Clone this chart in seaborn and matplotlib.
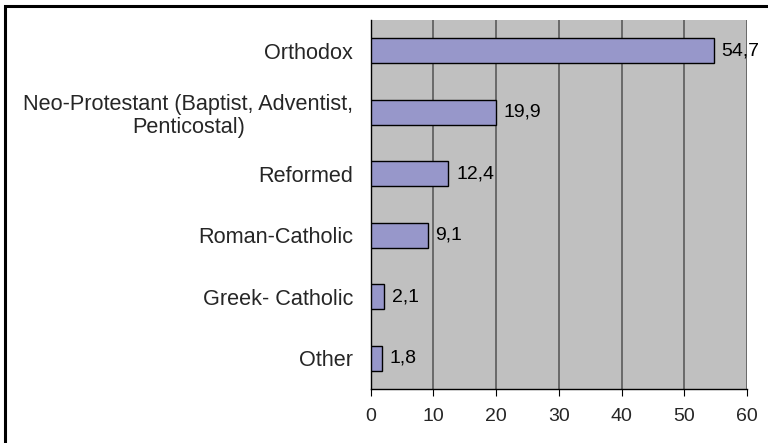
import matplotlib
matplotlib.use("Agg")
import matplotlib.pyplot as plt
import seaborn as sns
import pandas as pd
from matplotlib.patches import Rectangle

categories = ["Orthodox", "Neo-Protestant (Baptist, Adventist,\nPenticostal)", "Reformed",
              "Roman-Catholic", "Greek- Catholic", "Other"]
values = [54.7, 19.9, 12.4, 9.1, 2.1, 1.8]
value_labels = ["54,7", "19,9", "12,4", "9,1", "2,1", "1,8"]
xticks = [0, 10, 20, 30, 40, 50, 60]

sns.set_style("white")
plt.rcParams['font.family'] = ['Liberation Sans', 'DejaVu Sans']
FS = 14
FS_Y = 15.6

df = pd.DataFrame({"cat": categories, "val": values})

fig = plt.figure(figsize=(7.68, 4.43), dpi=100)
ax = fig.add_axes([370.7/768, 1-389/443, (747-370.7)/768, (389-20)/443])

# outer frame
fig.patches.append(Rectangle((5/768, -0.05), 1.0, 1 - 6/443 + 0.05, transform=fig.transFigure,
                             fill=False, edgecolor='black', linewidth=2.2, zorder=0))

ax.set_facecolor('#C0C0C0')
sns.barplot(data=df, y="cat", x="val", orient="h", color='#9797CA', width=0.4,
            edgecolor='black', linewidth=1.0, saturation=1, ax=ax, zorder=3)

ax.set_xlim(0, 60)
ax.set_ylim(5.5, -0.5)
ax.set_xticks(xticks)
ax.set_xticklabels([str(t) for t in xticks], fontsize=FS)
ax.set_yticks([i - 0.5 for i in range(7)], minor=True)
ax.tick_params(axis='y', which='major', length=0, labelsize=FS_Y, pad=12.5)
ax.tick_params(axis='y', which='minor', length=5, width=0.8, color='black', direction='out')
ax.tick_params(axis='x', length=5, width=0.8, color='black', direction='out', bottom=True, pad=9)
for lbl in ax.get_yticklabels():
    lbl.set_horizontalalignment('right')
    lbl.set_multialignment('center')
    lbl.set_linespacing(1.15)
ax.set_xlabel("")
ax.set_ylabel("")

for x in xticks[1:]:
    ax.axvline(x, color='#5a5a5a', linewidth=1.2, zorder=1)

for s in ['top', 'right']:
    ax.spines[s].set_visible(False)
ax.spines['left'].set_color('black')
ax.spines['left'].set_linewidth(1.0)
ax.spines['bottom'].set_color('black')
ax.spines['bottom'].set_linewidth(1.0)

for i, (v, t) in enumerate(zip(values, value_labels)):
    ax.annotate(t, (v, i), xytext=(5.5, 0), textcoords='offset points', va='center', ha='left',
                fontsize=FS, color='black', zorder=5)

fig.savefig("out.png", dpi=100)
